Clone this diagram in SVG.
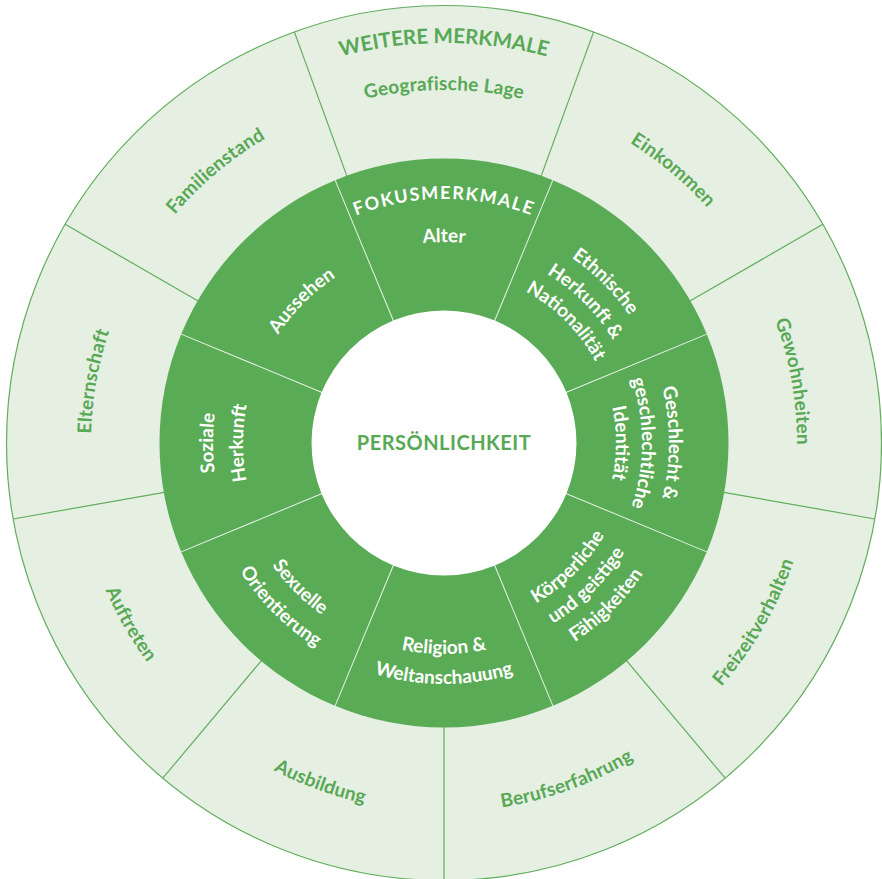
<svg xmlns="http://www.w3.org/2000/svg" xmlns:xlink="http://www.w3.org/1999/xlink" width="882" height="879" viewBox="0 0 882 879">
<style>
  text { font-family: Lato, "Open Sans", "DejaVu Sans", sans-serif; font-weight: 700; text-anchor: middle; }
  .outer { fill: #58a855; font-size: 19px; letter-spacing: 0.2px; }
  .inner { fill: #ffffff; font-size: 19px; }
  .head-o { fill: #58a855; font-size: 20.5px; letter-spacing: 0px; }
  .head-i { fill: #ffffff; font-size: 18px; letter-spacing: 1.5px; }
  .center { fill: #58a855; font-size: 20px; letter-spacing: 0.5px; }
  .odiv { stroke: #62ad5e; stroke-width: 1.2; }
  .idiv { stroke: #ffffff; stroke-width: 1; stroke-opacity: 0.85; }
</style>
<defs>
  <path id="c400" d="M -346.41 -200 A 400 400 0 0 1 346.41 -200"/>
  <path id="c353" d="M -305.71 -176.5 A 353 353 0 0 1 305.71 -176.5"/>
  <path id="c244" d="M -211.31 -122 A 244 244 0 0 1 211.31 -122"/>
  <path id="c231" d="M -200.05 -115.5 A 231 231 0 0 1 200.05 -115.5"/>
  <path id="c225" d="M -194.86 -112.5 A 225 225 0 0 1 194.86 -112.5"/>
  <path id="c201" d="M -174.07 -100.5 A 201 201 0 0 1 174.07 -100.5"/>
  <path id="c198" d="M -171.47 -99 A 198 198 0 0 1 171.47 -99"/>
  <path id="c172" d="M -148.96 -86 A 172 172 0 0 1 148.96 -86"/>
  <path id="a369" d="M -319.56 184.5 A 369 369 0 0 0 319.56 184.5"/>
  <path id="a241" d="M -208.71 120.5 A 241 241 0 0 0 208.71 120.5"/>
  <path id="a238" d="M -206.11 119 A 238 238 0 0 0 206.11 119"/>
  <path id="a211" d="M -182.73 105.5 A 211 211 0 0 0 182.73 105.5"/>
  <path id="a185" d="M -160.21 92.5 A 185 185 0 0 0 160.21 92.5"/>
</defs>

<g id="background" transform="translate(444,443)">
  <circle r="437.5" fill="#e5efe2" stroke="#62ad5e" stroke-width="1.2"/>
  <g id="outer-dividers" class="odiv">
    <line x1="284" x2="437.5" y1="0" y2="0" transform="rotate(-110)"/>
    <line x1="284" x2="437.5" y1="0" y2="0" transform="rotate(-70)"/>
    <line x1="284" x2="437.5" y1="0" y2="0" transform="rotate(-30)"/>
    <line x1="284" x2="437.5" y1="0" y2="0" transform="rotate(10)"/>
    <line x1="284" x2="437.5" y1="0" y2="0" transform="rotate(50)"/>
    <line x1="284" x2="437.5" y1="0" y2="0" transform="rotate(90)"/>
    <line x1="284" x2="437.5" y1="0" y2="0" transform="rotate(130)"/>
    <line x1="284" x2="437.5" y1="0" y2="0" transform="rotate(170)"/>
    <line x1="284" x2="437.5" y1="0" y2="0" transform="rotate(210)"/>
  </g>
  <circle r="284.5" fill="#5aab56"/>
  <g id="inner-dividers" class="idiv">
    <line x1="132" x2="284.5" y1="0" y2="0" transform="rotate(-112.5)"/>
    <line x1="132" x2="284.5" y1="0" y2="0" transform="rotate(-67.5)"/>
    <line x1="132" x2="284.5" y1="0" y2="0" transform="rotate(-22.5)"/>
    <line x1="132" x2="284.5" y1="0" y2="0" transform="rotate(22.5)"/>
    <line x1="132" x2="284.5" y1="0" y2="0" transform="rotate(67.5)"/>
    <line x1="132" x2="284.5" y1="0" y2="0" transform="rotate(112.5)"/>
    <line x1="132" x2="284.5" y1="0" y2="0" transform="rotate(157.5)"/>
    <line x1="132" x2="284.5" y1="0" y2="0" transform="rotate(202.5)"/>
  </g>
  <circle r="132.5" fill="#ffffff"/>
</g>

<g id="center" transform="translate(444,443)">
  <text class="center" y="7">PERSÖNLICHKEIT</text>
</g>

<g id="outer-ring" transform="translate(444,443)">
  <g id="weitere-merkmale"><text class="head-o"><textPath href="#c400" startOffset="50%">WEITERE MERKMALE</textPath></text></g>
  <g id="geografische-lage"><text class="outer"><textPath href="#c353" startOffset="50%">Geografische Lage</textPath></text></g>
  <g id="einkommen" transform="rotate(40)"><text class="outer"><textPath href="#c353" startOffset="50%">Einkommen</textPath></text></g>
  <g id="gewohnheiten" transform="rotate(80)"><text class="outer"><textPath href="#c353" startOffset="50%">Gewohnheiten</textPath></text></g>
  <g id="freizeitverhalten" transform="rotate(-60)"><text class="outer"><textPath href="#a369" startOffset="50%">Freizeitverhalten</textPath></text></g>
  <g id="berufserfahrung" transform="rotate(-20)"><text class="outer"><textPath href="#a369" startOffset="50%">Berufserfahrung</textPath></text></g>
  <g id="ausbildung" transform="rotate(20)"><text class="outer"><textPath href="#a369" startOffset="50%">Ausbildung</textPath></text></g>
  <g id="auftreten" transform="rotate(60)"><text class="outer"><textPath href="#a369" startOffset="50%">Auftreten</textPath></text></g>
  <g id="elternschaft" transform="rotate(280)"><text class="outer"><textPath href="#c353" startOffset="50%">Elternschaft</textPath></text></g>
  <g id="familienstand" transform="rotate(320)"><text class="outer"><textPath href="#c353" startOffset="50%">Familienstand</textPath></text></g>
</g>

<g id="inner-ring" transform="translate(444,443)">
  <g id="fokusmerkmale"><text class="head-i"><textPath href="#c244" startOffset="50%">FOKUSMERKMALE</textPath></text></g>
  <g id="alter"><text class="inner"><textPath href="#c201" startOffset="50%">Alter</textPath></text></g>
  <g id="ethnische-herkunft" transform="rotate(45)">
    <text class="inner"><textPath href="#c225" startOffset="50%">Ethnische</textPath></text>
    <text class="inner"><textPath href="#c198" startOffset="50%">Herkunft &amp;</textPath></text>
    <text class="inner"><textPath href="#c172" startOffset="50%">Nationalität</textPath></text>
  </g>
  <g id="geschlecht" transform="rotate(90)">
    <text class="inner"><textPath href="#c225" startOffset="50%">Geschlecht &amp;</textPath></text>
    <text class="inner"><textPath href="#c198" startOffset="50%">geschlechtliche</textPath></text>
    <text class="inner"><textPath href="#c172" startOffset="50%">Identität</textPath></text>
  </g>
  <g id="faehigkeiten" transform="rotate(-45)">
    <text class="inner"><textPath href="#a185" startOffset="50%">Körperliche</textPath></text>
    <text class="inner"><textPath href="#a211" startOffset="50%">und geistige</textPath></text>
    <text class="inner"><textPath href="#a238" startOffset="50%">Fähigkeiten</textPath></text>
  </g>
  <g id="religion">
    <text class="inner"><textPath href="#a211" startOffset="50%">Religion &amp;</textPath></text>
    <text class="inner"><textPath href="#a241" startOffset="50%">Weltanschauung</textPath></text>
  </g>
  <g id="sexuelle-orientierung" transform="rotate(45)">
    <text class="inner"><textPath href="#a211" startOffset="50%">Sexuelle</textPath></text>
    <text class="inner"><textPath href="#a241" startOffset="50%">Orientierung</textPath></text>
  </g>
  <g id="soziale-herkunft" transform="rotate(270)">
    <text class="inner"><textPath href="#c231" startOffset="50%">Soziale</textPath></text>
    <text class="inner"><textPath href="#c201" startOffset="50%">Herkunft</textPath></text>
  </g>
  <g id="aussehen" transform="rotate(315)">
    <text class="inner"><textPath href="#c198" startOffset="50%">Aussehen</textPath></text>
  </g>
</g>
</svg>
